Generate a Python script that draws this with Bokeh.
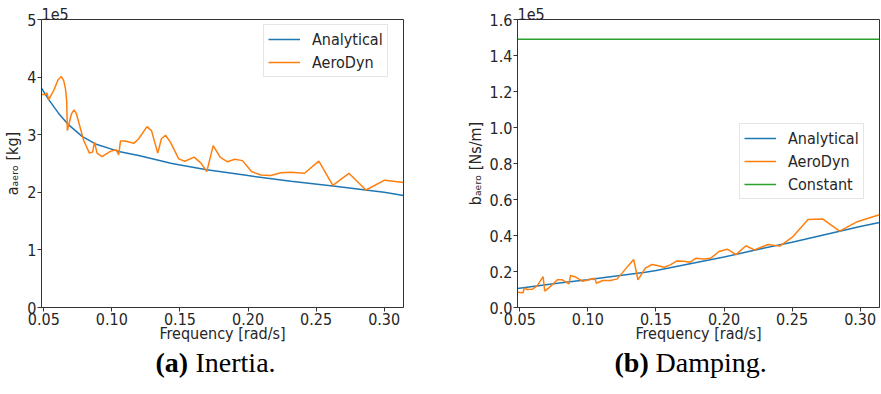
from bokeh.plotting import figure
from bokeh.layouts import row, column
from bokeh.models import (Range1d, FixedTicker, CustomJSTickFormatter, Title,
                          Legend, LegendItem)
from bokeh.core.properties import value
from bokeh.embed import file_html
from bokeh.resources import INLINE

# ---- data -----------------------------------------------------------------
x_range_limits = [0.0483, 0.3142]
x_ticks = [0.05, 0.10, 0.15, 0.20, 0.25, 0.30]

# (a) added mass / inertia [kg]
freq_a_analytical = [0.0483, 0.0536, 0.0609, 0.0683, 0.0781, 0.0879, 0.1050,
                     0.1197, 0.1433, 0.1491, 0.1697, 0.2000, 0.2315, 0.2623,
                     0.3000, 0.3142]
a_analytical = [3.81e5, 3.61e5, 3.37e5, 3.17e5, 2.97e5, 2.84e5, 2.71e5,
                2.64e5, 2.505e5, 2.48e5, 2.39e5, 2.29e5, 2.19e5, 2.11e5,
                2.00e5, 1.945e5]

freq_a_aerodyn = [0.0483, 0.0516, 0.0522, 0.0536, 0.0573, 0.0604, 0.0629,
                  0.0646, 0.0659, 0.0668, 0.0673, 0.0688, 0.0703, 0.0722,
                  0.0740, 0.0756, 0.0793, 0.0835, 0.0859, 0.0872, 0.0891,
                  0.0928, 0.0989, 0.1031, 0.1050, 0.1063, 0.1095, 0.1161,
                  0.1197, 0.1258, 0.1291, 0.1337, 0.1364, 0.1394, 0.1430,
                  0.1491, 0.1535, 0.1604, 0.1653, 0.1697, 0.1744, 0.1795,
                  0.1849, 0.1903, 0.1959, 0.2026, 0.2094, 0.2167, 0.2241,
                  0.2314, 0.2415, 0.2520, 0.2623, 0.2741, 0.2866, 0.3004,
                  0.3142]
a_aerodyn = [3.70e5, 3.70e5, 3.73e5, 3.61e5, 3.77e5, 3.95e5, 4.01e5,
             3.94e5, 3.80e5, 3.59e5, 3.07e5, 3.22e5, 3.36e5, 3.43e5,
             3.36e5, 3.22e5, 2.90e5, 2.68e5, 2.70e5, 2.87e5, 2.68e5,
             2.62e5, 2.71e5, 2.74e5, 2.65e5, 2.89e5, 2.89e5, 2.85e5,
             2.93e5, 3.14e5, 3.07e5, 2.68e5, 2.93e5, 2.99e5, 2.87e5,
             2.58e5, 2.54e5, 2.61e5, 2.51e5, 2.36e5, 2.81e5, 2.61e5,
             2.53e5, 2.575e5, 2.55e5, 2.36e5, 2.30e5, 2.29e5, 2.34e5,
             2.35e5, 2.33e5, 2.54e5, 2.12e5, 2.33e5, 2.04e5, 2.21e5,
             2.17e5]

# (b) damping [Ns/m]
freq_b_analytical = [0.0483, 0.0776, 0.0995, 0.1422, 0.1502, 0.2000, 0.2263,
                     0.2500, 0.3000, 0.3142]
b_analytical = [0.106e5, 0.135e5, 0.154e5, 0.196e5, 0.206e5, 0.280e5,
                0.325e5, 0.363e5, 0.450e5, 0.472e5]

freq_b_aerodyn = [0.0483, 0.0524, 0.0531, 0.0556, 0.0593, 0.0629, 0.0671,
                  0.0683, 0.0714, 0.0776, 0.0812, 0.0861, 0.0873, 0.0910,
                  0.0959, 0.1007, 0.1051, 0.1063, 0.1110, 0.1166, 0.1215,
                  0.1251, 0.1336, 0.1368, 0.1422, 0.1471, 0.1507, 0.1561,
                  0.1605, 0.1654, 0.1702, 0.1751, 0.1795, 0.1848, 0.1903,
                  0.1963, 0.2024, 0.2088, 0.2161, 0.2222, 0.2324, 0.2410,
                  0.2507, 0.2617, 0.2726, 0.2849, 0.2983, 0.3142]
b_aerodyn = [0.085e5, 0.082e5, 0.107e5, 0.100e5, 0.102e5, 0.122e5, 0.172e5,
             0.091e5, 0.109e5, 0.154e5, 0.154e5, 0.131e5, 0.178e5, 0.169e5,
             0.146e5, 0.154e5, 0.163e5, 0.135e5, 0.150e5, 0.150e5, 0.159e5,
             0.191e5, 0.267e5, 0.154e5, 0.219e5, 0.239e5, 0.233e5, 0.224e5,
             0.237e5, 0.259e5, 0.257e5, 0.252e5, 0.274e5, 0.270e5, 0.274e5,
             0.311e5, 0.324e5, 0.294e5, 0.343e5, 0.320e5, 0.350e5, 0.341e5,
             0.394e5, 0.489e5, 0.491e5, 0.424e5, 0.478e5, 0.515e5]

b_constant = 1.49e5

a_ticks = [0, 1e5, 2e5, 3e5, 4e5, 5e5]
b_ticks = [0, 0.2e5, 0.4e5, 0.6e5, 0.8e5, 1.0e5, 1.2e5, 1.4e5, 1.6e5]

caption_tags = ["(a)", "(b)"]
caption_texts = ["Inertia.", "Damping."]

# ---- styling --------------------------------------------------------------
FONT = "DejaVu Sans Condensed"
CAPTION_FONT = "Liberation Serif"
TEXT = "#262626"
SPINE = "#333333"
BLUE, ORANGE, GREEN = "#1f77b4", "#ff7f0e", "#2ca02c"
PANEL_H = 346


def make_panel(width, border_left, border_right, y_end, y_ticks, digits, ylabel):
    p = figure(width=width, height=PANEL_H, output_backend="svg",
               toolbar_location=None,
               x_range=Range1d(*x_range_limits), y_range=Range1d(0, y_end),
               min_border_left=border_left, min_border_right=border_right,
               min_border_top=19, min_border_bottom=PANEL_H - 307)
    p.grid.visible = False
    p.outline_line_color = SPINE
    p.outline_line_width = 1
    p.background_fill_color = "white"
    p.border_fill_color = "white"

    p.xaxis.ticker = FixedTicker(ticks=x_ticks)
    p.xaxis.formatter = CustomJSTickFormatter(code="return tick.toFixed(2)")
    p.yaxis.ticker = FixedTicker(ticks=y_ticks)
    p.yaxis.formatter = CustomJSTickFormatter(
        code="return (tick / 1e5).toFixed(%d)" % digits)

    for ax in (p.xaxis[0], p.yaxis[0]):
        ax.axis_line_color = SPINE
        ax.major_tick_line_color = SPINE
        ax.major_tick_out = 4
        ax.major_tick_in = 0
        ax.minor_tick_out = 0
        ax.minor_tick_in = 0
        ax.major_label_text_font = FONT
        ax.major_label_text_font_size = "16px"
        ax.major_label_text_color = TEXT
        ax.major_label_standoff = 1
        ax.axis_label_text_font = FONT
        ax.axis_label_text_font_size = "16px"
        ax.axis_label_text_font_style = "normal"
        ax.axis_label_text_color = TEXT
    p.xaxis.axis_label_standoff = -4
    p.yaxis.axis_label_standoff = 2

    p.xaxis.axis_label = "Frequency [rad/s]"
    p.yaxis.axis_label = ylabel

    # offset text of the scaled y axis, sitting on the top spine
    p.add_layout(Title(text="1e5", align="left", standoff=0, offset=0,
                       text_font=FONT, text_font_size="16px",
                       text_font_style="normal", text_color=TEXT), "above")
    return p


def add_legend(p, items, bottom):
    legend = Legend(items=items, location=(222, bottom), margin=0, padding=4,
                    spacing=3, glyph_width=32, glyph_height=20,
                    label_height=20, label_standoff=12,
                    label_text_font=FONT, label_text_font_size="16px",
                    label_text_color=TEXT,
                    border_line_color="#cccccc", border_line_width=1,
                    background_fill_color="white", background_fill_alpha=0.8)
    p.add_layout(legend)


# ---- (a) inertia ----------------------------------------------------------
pa = make_panel(440, 41, 37, 5e5, a_ticks, 0, "a\u2090\u2091\u1d63\u2092 [kg]")
ra1 = pa.line(freq_a_analytical, a_analytical, line_color=BLUE, line_width=1.5)
ra2 = pa.line(freq_a_aerodyn, a_aerodyn, line_color=ORANGE, line_width=1.5)
add_legend(pa, [LegendItem(label="Analytical", renderers=[ra1]),
                LegendItem(label="AeroDyn", renderers=[ra2])], 230)

# ---- (b) damping ----------------------------------------------------------
pb = make_panel(441, 77, 2, 1.6e5, b_ticks, 1, "b\u2090\u2091\u1d63\u2092 [Ns/m]")
rb1 = pb.line(freq_b_analytical, b_analytical, line_color=BLUE, line_width=1.5)
rb2 = pb.line(freq_b_aerodyn, b_aerodyn, line_color=ORANGE, line_width=1.5)
rb3 = pb.line(x_range_limits, [b_constant, b_constant], line_color=GREEN,
              line_width=1.5)
add_legend(pb, [LegendItem(label="Analytical", renderers=[rb1]),
                LegendItem(label="AeroDyn", renderers=[rb2]),
                LegendItem(label="Constant", renderers=[rb3])], 108)

# ---- sub-captions strip ---------------------------------------------------
CAP_H = 394 - PANEL_H
cap = figure(width=881, height=CAP_H, output_backend="svg",
             toolbar_location=None, x_axis_type=None, y_axis_type=None,
             x_range=Range1d(0, 881), y_range=Range1d(0, CAP_H),
             min_border=0)
cap.grid.visible = False
cap.outline_line_color = None
cap.background_fill_color = "white"
cap.border_fill_color = "white"
cap_y = [CAP_H - 16] * 2
cap.text(x=[155, 614], y=cap_y, text=caption_tags,
         text_font=value(CAPTION_FONT), text_font_style="bold",
         text_font_size="28px", text_color="black", text_baseline="middle",
         text_align="left")
cap.text(x=[195, 655], y=cap_y, text=caption_texts,
         text_font=value(CAPTION_FONT), text_font_size="28px",
         text_color="black", text_baseline="middle", text_align="left")

layout = column(row(pa, pb, spacing=0), cap, spacing=0)
open("out.html", "w").write(file_html(layout, INLINE))
